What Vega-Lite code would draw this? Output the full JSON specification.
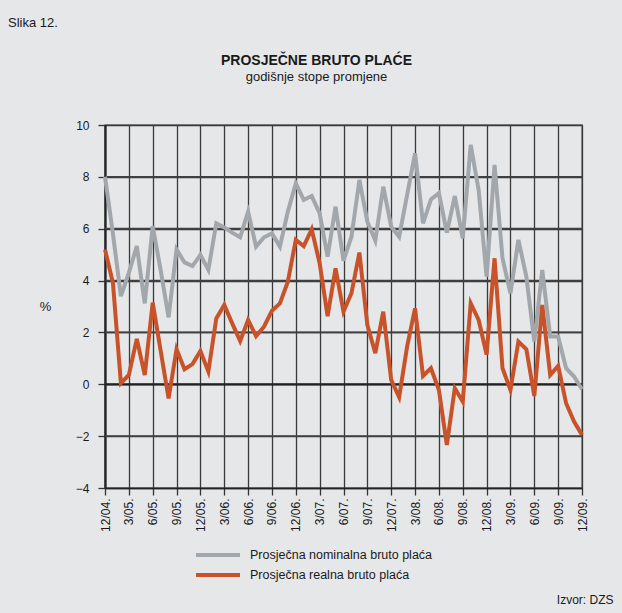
{
  "$schema": "https://vega.github.io/schema/vega-lite/v6.json",
  "width": 477,
  "height": 363,
  "autosize": {"type": "none"},
  "padding": {"left": 105, "top": 125, "right": 40, "bottom": 125},
  "background": "#e6e7e9",
  "title": {
    "text": "PROSJEČNE BRUTO PLAĆE",
    "subtitle": "godišnje stope promjene",
    "anchor": "middle",
    "dx": -27,
    "offset": -67,
    "fontSize": 14,
    "fontWeight": "bold",
    "subtitleFontSize": 13,
    "color": "#1a1a1a",
    "subtitleColor": "#1a1a1a",
    "font": "Liberation Sans",
    "subtitleFont": "Liberation Sans",
    "subtitlePadding": 3
  },
  "config": {
    "font": "Liberation Sans",
    "view": {"stroke": "#333333", "strokeWidth": 1.3},
    "axis": {
      "gridColor": "#3a3a3a",
      "gridWidth": 1.3,
      "gridOpacity": 1,
      "tickColor": "#333333",
      "tickWidth": 1.3,
      "tickSize": 7,
      "labelColor": "#1a1a1a",
      "labelFontSize": 12,
      "titleColor": "#1a1a1a",
      "titleFontWeight": "normal",
      "titleFontSize": 13
    }
  },
  "layer": [
    {
      "data": {
        "values": [
          {"note": "Slika 12.", "y": -2},
          {"note": "Slika 12.", "y": 2},
          {"note": "Slika 12.", "y": 4},
          {"note": "Slika 12.", "y": 6},
          {"note": "Slika 12.", "y": 8}
        ]
      },
      "mark": {"type": "rule", "stroke": "#404040", "strokeWidth": 1.8},
      "encoding": {
        "y": {
          "field": "y",
          "type": "quantitative",
          "scale": {"domain": [-4, 10], "nice": false, "zero": false},
          "axis": {
            "values": [-4, -2, 0, 2, 4, 6, 8, 10],
            "grid": true,
            "labelPadding": 9,
            "domainColor": "#222222",
            "domainWidth": 2.2,
            "title": "%",
            "titleAngle": 0,
            "titleX": -60,
            "titleY": 181,
            "titleAlign": "center",
            "titleBaseline": "middle",
            "titleFontSize": 13
          }
        },
        "opacity": {
          "field": "note",
          "type": "ordinal",
          "scale": {"range": [1, 1]},
          "legend": {
            "orient": "none",
            "legendX": -97,
            "legendY": -108,
            "title": "Slika 12.",
            "titleFontSize": 13,
            "titleFontWeight": "normal",
            "titleColor": "#1a1a1a",
            "titlePadding": 0,
            "symbolOpacity": 0,
            "symbolStrokeWidth": 0,
            "symbolSize": 1,
            "labelExpr": "''",
            "labelFontSize": 1
          }
        }
      }
    },
    {
      "data": {"values": [{"y": 0}]},
      "mark": {"type": "rule", "stroke": "#222222", "strokeWidth": 2.3},
      "encoding": {
        "y": {
          "field": "y",
          "type": "quantitative",
          "scale": {"domain": [-4, 10], "nice": false, "zero": false},
          "axis": {
            "values": [-4, -2, 0, 2, 4, 6, 8, 10],
            "grid": true,
            "labelPadding": 9,
            "domainColor": "#222222",
            "domainWidth": 2.2,
            "title": "%",
            "titleAngle": 0,
            "titleX": -60,
            "titleY": 181,
            "titleAlign": "center",
            "titleBaseline": "middle",
            "titleFontSize": 13
          }
        }
      }
    },
    {
      "data": {
        "values": [
          {"i": 0, "nominal": 8.0, "real": 5.2},
          {"i": 1, "nominal": 5.8, "real": 3.9},
          {"i": 2, "nominal": 3.4, "real": 0.04},
          {"i": 3, "nominal": 4.3, "real": 0.36},
          {"i": 4, "nominal": 5.33, "real": 1.75},
          {"i": 5, "nominal": 3.12, "real": 0.36},
          {"i": 6, "nominal": 6.1, "real": 3.15},
          {"i": 7, "nominal": 4.4, "real": 1.3},
          {"i": 8, "nominal": 2.58, "real": -0.55},
          {"i": 9, "nominal": 5.2, "real": 1.35},
          {"i": 10, "nominal": 4.7, "real": 0.58},
          {"i": 11, "nominal": 4.56, "real": 0.78},
          {"i": 12, "nominal": 4.99, "real": 1.28},
          {"i": 13, "nominal": 4.41, "real": 0.49},
          {"i": 14, "nominal": 6.21, "real": 2.54},
          {"i": 15, "nominal": 6.05, "real": 3.06},
          {"i": 16, "nominal": 5.85, "real": 2.35},
          {"i": 17, "nominal": 5.67, "real": 1.67},
          {"i": 18, "nominal": 6.66, "real": 2.48},
          {"i": 19, "nominal": 5.31, "real": 1.86},
          {"i": 20, "nominal": 5.67, "real": 2.22},
          {"i": 21, "nominal": 5.82, "real": 2.84},
          {"i": 22, "nominal": 5.31, "real": 3.12},
          {"i": 23, "nominal": 6.66, "real": 3.96},
          {"i": 24, "nominal": 7.75, "real": 5.57},
          {"i": 25, "nominal": 7.11, "real": 5.33},
          {"i": 26, "nominal": 7.26, "real": 5.98},
          {"i": 27, "nominal": 6.59, "real": 4.67},
          {"i": 28, "nominal": 4.92, "real": 2.63},
          {"i": 29, "nominal": 6.85, "real": 4.47},
          {"i": 30, "nominal": 4.77, "real": 2.8},
          {"i": 31, "nominal": 5.69, "real": 3.51},
          {"i": 32, "nominal": 7.88, "real": 5.08},
          {"i": 33, "nominal": 6.27, "real": 2.29},
          {"i": 34, "nominal": 5.54, "real": 1.2},
          {"i": 35, "nominal": 7.62, "real": 2.8},
          {"i": 36, "nominal": 6.08, "real": 0.17},
          {"i": 37, "nominal": 5.69, "real": -0.5},
          {"i": 38, "nominal": 7.3, "real": 1.45},
          {"i": 39, "nominal": 8.91, "real": 2.93},
          {"i": 40, "nominal": 6.21, "real": 0.32},
          {"i": 41, "nominal": 7.13, "real": 0.62},
          {"i": 42, "nominal": 7.37, "real": -0.22},
          {"i": 43, "nominal": 5.85, "real": -2.34},
          {"i": 44, "nominal": 7.26, "real": -0.15},
          {"i": 45, "nominal": 5.63, "real": -0.67},
          {"i": 46, "nominal": 9.23, "real": 3.12},
          {"i": 47, "nominal": 7.49, "real": 2.48},
          {"i": 48, "nominal": 4.15, "real": 1.15},
          {"i": 49, "nominal": 8.46, "real": 4.86},
          {"i": 50, "nominal": 4.86, "real": 0.62},
          {"i": 51, "nominal": 3.51, "real": -0.22},
          {"i": 52, "nominal": 5.57, "real": 1.65},
          {"i": 53, "nominal": 4.15, "real": 1.35},
          {"i": 54, "nominal": 1.65, "real": -0.45},
          {"i": 55, "nominal": 4.41, "real": 3.06},
          {"i": 56, "nominal": 1.84, "real": 0.36},
          {"i": 57, "nominal": 1.84, "real": 0.71},
          {"i": 58, "nominal": 0.62, "real": -0.73},
          {"i": 59, "nominal": 0.3, "real": -1.44},
          {"i": 60, "nominal": -0.19, "real": -1.95}
        ]
      },
      "transform": [{"fold": ["nominal", "real"], "as": ["series", "value"]}],
      "mark": {"type": "line", "strokeWidth": 4, "strokeJoin": "miter", "strokeMiterLimit": 4},
      "encoding": {
        "x": {
          "field": "i",
          "type": "quantitative",
          "scale": {"domain": [0, 60], "nice": false, "zero": false},
          "axis": {
            "values": [0, 3, 6, 9, 12, 15, 18, 21, 24, 27, 30, 33, 36, 39, 42, 45, 48, 51, 54, 57, 60],
            "labelExpr": "((11 + datum.value) % 12 + 1) + '/0' + (4 + floor((11 + datum.value) / 12)) + '.'",
            "labelAngle": -90,
            "labelAlign": "right",
            "labelBaseline": "middle",
            "labelPadding": 3,
            "domainColor": "#222222",
            "domainWidth": 1.6,
            "title": "Izvor: DZS",
            "titleX": 508,
            "titleY": 115,
            "titleAlign": "right",
            "titleBaseline": "alphabetic",
            "titleFontSize": 12
          }
        },
        "y": {
          "field": "value",
          "type": "quantitative",
          "scale": {"domain": [-4, 10], "nice": false, "zero": false},
          "axis": {
            "values": [-4, -2, 0, 2, 4, 6, 8, 10],
            "grid": true,
            "labelPadding": 9,
            "domainColor": "#222222",
            "domainWidth": 2.2,
            "title": "%",
            "titleAngle": 0,
            "titleX": -60,
            "titleY": 181,
            "titleAlign": "center",
            "titleBaseline": "middle",
            "titleFontSize": 13
          }
        },
        "color": {
          "field": "series",
          "type": "nominal",
          "scale": {"domain": ["nominal", "real"], "range": ["#a1a7ab", "#c8532a"]},
          "legend": {
            "orient": "none",
            "legendX": 89,
            "legendY": 422,
            "title": null,
            "symbolType": "stroke",
            "symbolStrokeWidth": 4,
            "symbolSize": 1936,
            "clipHeight": 16,
            "labelFontSize": 12.5,
            "labelColor": "#1a1a1a",
            "labelLimit": 400,
            "labelOffset": 8,
            "rowPadding": 4,
            "labelExpr": "datum.label == 'nominal' ? 'Prosječna nominalna bruto plaća' : 'Prosječna realna bruto plaća'"
          }
        }
      }
    }
  ]
}
